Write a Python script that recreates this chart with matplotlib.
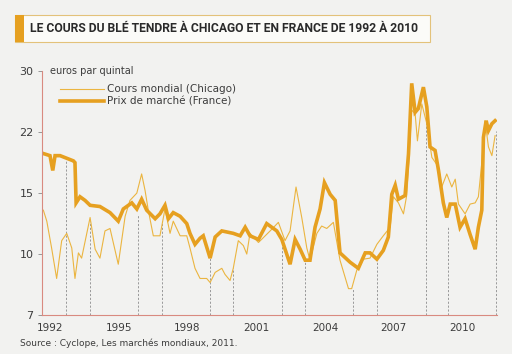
import numpy as np
import matplotlib
matplotlib.use("Agg")
import matplotlib.pyplot as plt
from matplotlib.patches import Rectangle

# y axis of the original is not linear: the 5 ticks are evenly spaced
levels = [7, 10, 15, 22, 30]
year_ticks = [1992, 1995, 1998, 2001, 2004, 2007, 2010]

# Prix de marché (France), euros par quintal
fr_year = [1991.64, 1992.0, 1992.12, 1992.22, 1992.44, 1992.73, 1993.02, 1993.09, 1993.14,
           1993.31, 1993.53, 1993.75, 1994.18, 1994.62, 1994.98, 1995.2, 1995.57, 1995.79,
           1996.0, 1996.22, 1996.59, 1996.8, 1997.02, 1997.17, 1997.38, 1997.68, 1997.97,
           1998.11, 1998.33, 1998.55, 1998.69, 1998.99, 1999.21, 1999.5, 2000.0, 2000.3,
           2000.52, 2000.73, 2001.1, 2001.46, 2001.9, 2002.12, 2002.48, 2002.7, 2002.92,
           2003.14, 2003.35, 2003.57, 2003.79, 2003.98, 2004.23, 2004.45, 2004.66, 2005.1,
           2005.46, 2005.76, 2005.97, 2006.27, 2006.55, 2006.77, 2006.92, 2007.07, 2007.21,
           2007.5, 2007.65, 2007.79, 2007.94, 2008.08, 2008.3, 2008.45, 2008.59, 2008.81,
           2008.96, 2009.17, 2009.32, 2009.47, 2009.69, 2009.9, 2010.12, 2010.34, 2010.56,
           2010.7, 2010.85, 2010.92, 2011.04, 2011.14, 2011.29, 2011.43]
fr_price = [19.6, 19.3, 17.6, 19.3, 19.3, 19.0, 18.7, 18.5, 14.2,
            14.7, 14.4, 14.0, 13.9, 13.4, 12.7, 13.7, 14.2, 13.7,
            14.5, 13.6, 12.9, 13.3, 14.0, 12.9, 13.4, 13.1, 12.5,
            11.7, 10.8, 11.3, 11.5, 9.8, 11.4, 11.9, 11.7, 11.5,
            12.2, 11.5, 11.2, 12.5, 11.9, 11.2, 9.5, 11.2, 10.4,
            9.7, 9.7, 12.2, 13.7, 16.2, 14.9, 14.4, 10.1, 9.6,
            9.3, 10.1, 10.1, 9.75, 10.3, 11.4, 14.9, 15.9, 14.5,
            14.8, 19.5, 28.4, 24.6, 25.1, 27.9, 25.3, 20.3, 19.9,
            17.6, 14.2, 13.0, 14.1, 14.1, 12.2, 12.9, 11.6, 10.4,
            12.2, 13.6, 21.4, 23.5, 22.2, 23.1, 23.5]

# Cours mondial (Chicago), euros par quintal
us_year = [1991.71, 1991.86, 1992.07, 1992.29, 1992.51, 1992.73, 1992.95, 1993.09, 1993.24,
           1993.38, 1993.75, 1993.97, 1994.18, 1994.4, 1994.62, 1994.98, 1995.28, 1995.49,
           1995.79, 1996.0, 1996.15, 1996.29, 1996.51, 1996.8, 1997.02, 1997.24, 1997.38,
           1997.68, 1997.97, 1998.11, 1998.33, 1998.55, 1998.84, 1998.99, 1999.21, 1999.5,
           1999.64, 1999.86, 2000.0, 2000.22, 2000.44, 2000.59, 2000.73, 2001.1, 2001.61,
           2001.97, 2002.26, 2002.48, 2002.74, 2002.99, 2003.21, 2003.35, 2003.65, 2003.86,
           2004.08, 2004.37, 2004.66, 2005.03, 2005.17, 2005.39, 2005.68, 2005.97, 2006.27,
           2006.55, 2006.85, 2006.99, 2007.21, 2007.43, 2007.58, 2007.79, 2007.94, 2008.04,
           2008.23, 2008.45, 2008.67, 2008.96, 2009.1, 2009.32, 2009.54, 2009.69, 2009.83,
           2010.12, 2010.34, 2010.56, 2010.7, 2010.85, 2010.99, 2011.14, 2011.29, 2011.43]
us_price = [13.6, 12.7, 10.5, 8.8, 11.1, 11.7, 10.5, 8.8, 10.1,
            9.8, 13.0, 10.4, 9.8, 11.9, 12.1, 9.5, 13.1, 14.4,
            15.0, 17.2, 15.3, 13.6, 11.5, 11.5, 13.7, 11.7, 12.7,
            11.5, 11.5, 10.5, 9.3, 8.8, 8.8, 8.6, 9.1, 9.3,
            9.0, 8.7, 9.3, 11.1, 10.7, 10.0, 11.7, 10.95, 11.9,
            12.6, 11.1, 11.9, 15.7, 13.0, 10.5, 9.7, 11.7, 12.3,
            12.1, 12.6, 9.7, 8.3, 8.3, 9.2, 9.75, 9.8, 10.8,
            11.5, 12.2, 14.7, 14.2, 13.3, 14.9, 24.9, 24.4, 21.0,
            25.7, 23.1, 19.1, 18.0, 15.7, 17.2, 15.7, 16.6, 14.1,
            13.3, 14.1, 14.2, 14.7, 18.5, 23.5, 20.3, 19.3, 21.6]

# dashed drop lines
drop_year = [1992.7, 1993.75, 1995.84, 1996.89, 1998.99, 1999.99, 2002.13,
             2003.14, 2005.23, 2006.28, 2008.42, 2009.38, 2011.48]
drop_top = [18.9, 12.7, 13.3, 12.7, 9.9, 9.3, 11.2, 9.7, 8.3, 9.8, 25.3, 12.3, 22.1]

pos = np.arange(len(levels))


def fwd(v):
    return np.interp(v, levels, pos)


def inv(p):
    return np.interp(p, pos, levels)


gold = "#e6a020"
gold_light = "#ebb540"
axis_red = "#d98a80"
txt = "#3c3c3c"

fig = plt.figure(figsize=(5.12, 3.54), dpi=100, facecolor="#f2f2f0")
ax = fig.add_axes([0.082, 0.110, 0.889, 0.689])
ax.set_facecolor("none")
ax.set_yscale("function", functions=(fwd, inv))
ax.set_ylim(7, 30)
ax.set_xlim(1991.65, 2011.52)

ax.vlines(drop_year, 7, drop_top, colors="#9a9a9a", linestyles=(0, (2.2, 1.8)), lw=0.7)
ax.plot(us_year, us_price, color=gold_light, lw=0.8, label="Cours mondial (Chicago)")
ax.plot(fr_year, fr_price, color=gold, lw=2.6, solid_joinstyle="miter",
        label="Prix de marché (France)")

for s in ["top", "right"]:
    ax.spines[s].set_visible(False)
for s in ["left", "bottom"]:
    ax.spines[s].set_color(axis_red)
    ax.spines[s].set_linewidth(0.8)

ax.set_yticks(levels)
ax.set_yticklabels([str(v) for v in levels])
ax.yaxis.set_minor_locator(matplotlib.ticker.NullLocator())
ax.tick_params(axis="y", length=3, width=0.6, color="#888888", labelsize=8,
               labelcolor=txt, pad=3)
ax.set_xticks(year_ticks)
ax.set_xticklabels([str(y) for y in year_ticks])
ax.tick_params(axis="x", length=0, labelsize=7.5, labelcolor=txt, pad=6)

ax.legend(loc="upper left", bbox_to_anchor=(0.02, 0.985), frameon=False, fontsize=7.5,
          handlelength=4.2, handletextpad=0.3, labelspacing=0.25, labelcolor=txt)

fig.text(50 / 512, 1 - 71 / 354, "euros par quintal", fontsize=7, color=txt, va="center")

# title box
fig.patches.append(Rectangle((15 / 512, 1 - 42 / 354), 415 / 512, 27 / 354,
                             transform=fig.transFigure, facecolor="#fbfbf8",
                             edgecolor="#e3c27a", lw=0.8))
fig.patches.append(Rectangle((15 / 512, 1 - 42 / 354), 9 / 512, 27 / 354,
                             transform=fig.transFigure, facecolor=gold, edgecolor="none"))
title = fig.text(30 / 512, 1 - 28.5 / 354,
                 "LE COURS DU BLÉ TENDRE À CHICAGO ET EN FRANCE DE 1992 À 2010",
                 family="Roboto", weight="bold", fontsize=12, color="#2a2a2a", va="center")
# shrink the title until it fits inside its box (about 392 px wide)
renderer = fig.canvas.get_renderer()
while title.get_window_extent(renderer).width > 392:
    title.set_fontsize(title.get_fontsize() - 0.25)

fig.text(20 / 512, 1 - 343 / 354, "Source : Cyclope, Les marchés mondiaux, 2011.",
         fontsize=6.5, color=txt, va="center")

fig.savefig("out.png", dpi=100, facecolor=fig.get_facecolor())
